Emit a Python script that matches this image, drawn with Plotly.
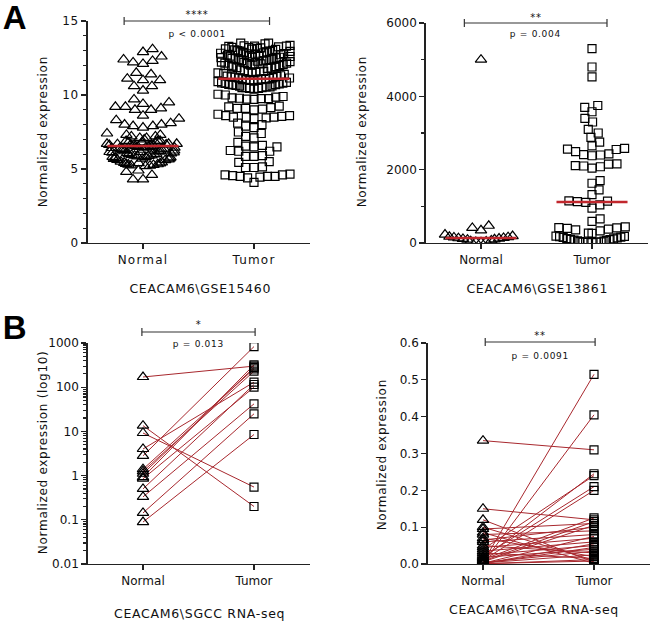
import numpy as np
import plotly.graph_objects as go

# ---------------- DATA ----------------
groups = ["Normal", "Tumor"]

gse15460_normal = [
    13.1, 12.9, 12.6, 12.4, 12.3, 12.2, 12.1,
    11.5, 11.4, 11.1, 11.0, 11.0,
    10.6, 10.6, 10.3,
    9.7, 9.5, 9.4, 9.2, 9.2, 9.1, 9.0, 9.0,
    8.6, 8.4, 8.3,
    8.1, 8.0, 8.0, 7.9, 7.9, 7.8,
    7.4, 7.3, 7.3, 7.2, 7.2, 7.1, 7.1,
    7.0, 6.9, 6.9, 6.9, 6.8, 6.8, 6.8, 6.7, 6.7,
    6.45, 6.5, 6.5, 6.55, 6.55, 6.6, 6.6, 6.62, 6.65, 6.65, 6.68, 6.7,
    6.15, 6.2, 6.22, 6.25, 6.28, 6.3, 6.32, 6.35, 6.38, 6.4, 6.42, 6.45,
    5.9, 5.92, 5.95, 5.98, 6.0, 6.02, 6.05, 6.08, 6.1, 6.12, 6.15, 6.18,
    5.6, 5.62, 5.65, 5.68, 5.7, 5.72, 5.75, 5.78, 5.8, 5.82, 5.85, 5.88,
    5.2, 5.22, 5.25, 5.28, 5.3, 5.32, 5.35, 5.38, 5.4, 5.42, 5.45, 5.5,
    4.9, 4.8, 4.6, 4.3, 4.3,
]
gse15460_tumor = [
    13.5, 13.45, 13.5,
    13.0, 13.02, 13.05, 13.08, 13.1, 13.12, 13.15, 13.18, 13.2, 13.22, 13.25, 13.28, 13.3, 13.3, 13.32, 13.35,
    12.6, 12.62, 12.65, 12.68, 12.7, 12.72, 12.75, 12.78, 12.8, 12.82, 12.85, 12.88, 12.9, 12.92, 12.95, 12.95,
    12.2, 12.22, 12.25, 12.28, 12.3, 12.32, 12.35, 12.38, 12.4, 12.42, 12.45, 12.48, 12.5, 12.52, 12.55, 12.55,
    11.8, 11.82, 11.85, 11.88, 11.9, 11.92, 11.95, 11.98, 12.0, 12.02, 12.05, 12.08, 12.1, 12.12, 12.15, 12.15,
    11.4, 11.45, 11.5, 11.5, 11.55, 11.55, 11.6, 11.6, 11.65, 11.7,
    11.0, 11.02, 11.05, 11.05, 11.08, 11.1, 11.1, 11.12, 11.15, 11.15, 11.18, 11.2, 11.22, 11.25, 11.28, 11.3,
    10.6, 10.62, 10.65, 10.68, 10.7, 10.72, 10.75, 10.78, 10.8, 10.82, 10.85, 10.9,
    10.4, 10.45, 10.45, 10.5, 10.5, 10.5, 10.55, 10.55,
    9.7, 9.72, 9.75, 9.75, 9.78, 9.8, 9.85, 9.9, 10.0, 10.05,
    9.0, 9.05, 9.1, 9.1, 9.15, 9.2, 9.25,
    8.4, 8.45, 8.5, 8.5, 8.5, 8.55, 8.6, 8.6, 8.7,
    7.8, 7.9, 8.0, 8.1,
    7.4, 7.5, 7.1, 7.2, 6.8,
    6.5, 6.5, 6.55, 6.6,
    6.2, 6.2, 6.25,
    5.85, 5.85, 5.9,
    5.45, 5.5,
    5.1, 5.1, 5.15,
    4.4, 4.45, 4.5, 4.5, 4.5, 4.55, 4.6, 4.6, 4.65,
    4.1,
]

gse13861_normal = [5000, 470, 410, 345, 230, 190, 170, 160, 150, 140,
                   130, 120, 110, 100, 90, 70, 50, 40, 30, 20]
gse13861_tumor = [
    5300, 4800, 4530, 3750, 3700, 3580, 3400, 3300, 3100, 3000, 2880, 2750, 2650,
    2580, 2560, 2550, 2490,
    2430, 2410, 2400, 2380,
    2160, 2150, 2110, 2100, 2080, 2040,
    1700, 1630, 1450, 1320,
    1150, 1140, 1130, 1110, 1040, 950,
    660, 590,
    440, 420, 410, 400, 380, 360, 330, 270, 260,
    190, 180, 170, 160, 150, 140, 120, 110, 100, 90, 80, 70, 60, 50, 40, 30, 25, 20, 15, 10,
]

sgcc_normal = [170, 13.5, 9.2, 4.0, 2.8, 1.4, 1.25, 1.1, 0.92, 0.85, 0.5, 0.33, 0.143, 0.089]
sgcc_tumor = [300, 0.2, 0.55, 130, 830, 260, 230, 280, 320, 100, 115, 42, 25, 8.5]

tcga_normal = [0.335, 0.15, 0.12, 0.10, 0.095, 0.085, 0.08, 0.07, 0.065, 0.06, 0.05,
               0.045, 0.04, 0.035, 0.03, 0.025, 0.02, 0.018, 0.015, 0.012, 0.01, 0.008,
               0.006, 0.005, 0.004, 0.003, 0.003, 0.002, 0.002, 0.001, 0.001, 0.0005]
tcga_tumor = [0.31, 0.12, 0.005, 0.01, 0.11, 0.002, 0.09, 0.02, 0.1, 0.08, 0.03,
              0.07, 0.24, 0.06, 0.015, 0.05, 0.21, 0.04, 0.245, 0.125, 0.2, 0.115,
              0.105, 0.515, 0.035, 0.405, 0.025, 0.075, 0.045, 0.008, 0.055, 0.012]

# ---------------- HELPERS ----------------
W, H = 650, 624
FONT = "DejaVu Sans"
MED_RED = "#C1272D"
LINE_RED = "#A8282E"
AX = "#222222"
XPU = 111.0  # px per x unit


def swarm(vals, ypu, d, maxw_px):
    """Beeswarm offsets (data units) computed from values."""
    v = np.asarray(vals, float)
    ys = v * ypu
    xs = np.zeros(len(v))
    placed = []
    flip = False
    for i in np.argsort(v, kind="stable"):
        y = ys[i]
        near = [(xs[j], ys[j]) for j in placed if abs(ys[j] - y) < d]
        cands = [0.0]
        for px, py in near:
            dx = np.sqrt(max(d * d - (py - y) ** 2, 0))
            cands += [px - dx, px + dx]
        cands.sort(key=lambda c: (round(abs(c), 4), (c > 0) == flip))
        for c in cands:
            if all((c - px) ** 2 + (y - py) ** 2 >= d * d - 1e-6 for px, py in near):
                xs[i] = c
                break
        flip = not flip
        placed.append(i)
    out = xs.copy()
    for i in range(len(v)):
        band = np.abs(ys - ys[i]) < d * 0.6
        m = np.max(np.abs(xs[band]))
        if m > maxw_px:
            out[i] = xs[i] * maxw_px / m
    return out / XPU


def py2paper(py):
    return 1 - py / H


fig = go.Figure()

panels = {
    "A1": ("x", "y", (87.5, 309.5), 21, 243),
    "A2": ("x2", "y2", (425.5, 647.5), 23, 243),
    "B1": ("x3", "y3", (87.5, 309.5), 343, 564),
    "B2": ("x4", "y4", (427.5, 649.5), 343, 564),
}

tri = dict(symbol="triangle-up-open", size=10, color="black", line=dict(width=1.2, color="black"))
sq = dict(symbol="square-open", size=8, color="black", line=dict(width=1.2, color="black"))

# ---- Panel A1
ypu_a1 = 222 / 15.0
for k, (vals, mk) in enumerate([(gse15460_normal, tri), (gse15460_tumor, sq)]):
    off = swarm(vals, ypu_a1, 10 if k == 0 else 8.5, 36)
    fig.add_trace(go.Scatter(x=k + off, y=vals, mode="markers", marker=mk,
                             xaxis="x", yaxis="y", showlegend=False, hoverinfo="skip"))
    med = float(np.median(vals))
    fig.add_trace(go.Scatter(x=[k - 0.32, k + 0.32], y=[med, med], mode="lines",
                             line=dict(color=MED_RED, width=2.5), xaxis="x", yaxis="y",
                             showlegend=False, hoverinfo="skip"))

# ---- Panel A2
ypu_a2 = 220 / 6000.0
for k, (vals, mk) in enumerate([(gse13861_normal, tri), (gse13861_tumor, sq)]):
    off = swarm(vals, ypu_a2, 9 if k == 0 else 8.5, 36)
    fig.add_trace(go.Scatter(x=k + off, y=vals, mode="markers", marker=mk,
                             xaxis="x2", yaxis="y2", showlegend=False, hoverinfo="skip"))
    med = float(np.median(vals))
    fig.add_trace(go.Scatter(x=[k - 0.32, k + 0.32], y=[med, med], mode="lines",
                             line=dict(color=MED_RED, width=2.5), xaxis="x2", yaxis="y2",
                             showlegend=False, hoverinfo="skip"))


# ---- Paired panels
def paired(nv, tv, xa, ya):
    lx, ly = [], []
    for a, b in zip(nv, tv):
        lx += [0, 1, None]
        ly += [a, b, None]
    fig.add_trace(go.Scatter(x=lx, y=ly, mode="lines", line=dict(color=LINE_RED, width=1),
                             xaxis=xa, yaxis=ya, showlegend=False, hoverinfo="skip"))
    fig.add_trace(go.Scatter(x=[0] * len(nv), y=nv, mode="markers", marker=tri,
                             xaxis=xa, yaxis=ya, showlegend=False, hoverinfo="skip"))
    fig.add_trace(go.Scatter(x=[1] * len(tv), y=tv, mode="markers", marker=sq,
                             xaxis=xa, yaxis=ya, showlegend=False, hoverinfo="skip"))


paired(sgcc_normal, sgcc_tumor, "x3", "y3")
paired(tcga_normal, tcga_tumor, "x4", "y4")

# ---------------- AXES ----------------
tickfont = dict(family=FONT, size=12, color="#111")
layout = dict(width=W, height=H, margin=dict(l=0, r=0, t=0, b=0, pad=0, autoexpand=False),
              paper_bgcolor="white", plot_bgcolor="white", showlegend=False)

yspecs = {
    "A1": dict(range=[0, 15], tickvals=[0, 5, 10, 15],
               minor=dict(dtick=1, ticks="outside", ticklen=3, tickcolor=AX, showgrid=False)),
    "A2": dict(range=[0, 6000], tickvals=[0, 2000, 4000, 6000],
               minor=dict(dtick=1000, ticks="outside", ticklen=3, tickcolor=AX, showgrid=False)),
    "B1": dict(type="log", range=[-2, 3], tickvals=[0.01, 0.1, 1, 10, 100, 1000],
               ticktext=["0.01", "0.1", "1", "10", "100", "1000"],
               minor=dict(dtick="D1", ticks="outside", ticklen=3, tickcolor=AX, showgrid=False)),
    "B2": dict(range=[0, 0.6], tickvals=[0, 0.1, 0.2, 0.3, 0.4, 0.5, 0.6], tickformat=".1f"),
}

for name, (xa, ya, (x0, x1), yt, yb) in panels.items():
    xkey = "xaxis" + xa[1:]
    ykey = "yaxis" + ya[1:]
    layout[xkey] = dict(domain=[x0 / W, x1 / W], range=[-0.5, 1.5], anchor=ya,
                        tickvals=[0, 1], ticktext=groups, ticks="outside", ticklen=5,
                        tickcolor=AX, tickwidth=1.2, showline=True, linecolor=AX, linewidth=1.3,
                        showgrid=False, zeroline=False, tickfont=tickfont, fixedrange=True,
                        automargin=False)
    yd = dict(domain=[py2paper(yb), py2paper(yt)], anchor=xa, ticks="outside", ticklen=5,
              tickcolor=AX, tickwidth=1.2, showline=True, linecolor=AX, linewidth=1.3,
              showgrid=False, zeroline=False, tickfont=tickfont, fixedrange=True,
              automargin=False)
    yd.update(yspecs[name])
    layout[ykey] = yd

fig.update_layout(**layout)

# ---------------- ANNOTATIONS ----------------
ann = []
shapes = []


def text(x, y, s, size=12, xref="paper", angle=0):
    ann.append(dict(x=x, y=y, xref=xref, yref="paper", text=s, showarrow=False,
                    textangle=angle, xanchor="center", yanchor="middle",
                    font=dict(family=FONT, size=size, color="#111")))


# panel letters
ann.append(dict(x=1 / W, y=py2paper(-3), xref="paper", yref="paper", text="<b>A</b>", showarrow=False,
                xanchor="left", yanchor="top", font=dict(family="Liberation Sans", size=33, color="black")))
ann.append(dict(x=1 / W, y=py2paper(307), xref="paper", yref="paper", text="<b>B</b>", showarrow=False,
                xanchor="left", yanchor="top", font=dict(family="Liberation Sans", size=33, color="black")))

# y-axis titles
text(43 / W, py2paper(132), "Normalized expression", angle=-90)
text(362 / W, py2paper(132), "Normalized expression", angle=-90)
text(43 / W, py2paper(453), "Normalized expression (log10)", angle=-90)
text(382 / W, py2paper(455), "Normalized expression", angle=-90)

# dataset captions
text(200 / W, py2paper(288), "CEACAM6\\GSE15460", size=12.5)
text(537 / W, py2paper(288), "CEACAM6\\GSE13861", size=12.5)
text(199 / W, py2paper(613), "CEACAM6\\SGCC RNA-seq", size=12.5)
text(534 / W, py2paper(609), "CEACAM6\\TCGA RNA-seq", size=12.5)

# significance brackets
brackets = [
    ("x", -0.17, 1.14, 21, "****", 14, "p &lt; 0.0001", 34),
    ("x2", -0.15, 1.135, 23, "**", 17, "p = 0.004", 34),
    ("x3", -0.01, 1.01, 332, "*", 324, "p = 0.013", 344),
    ("x4", 0.02, 1.01, 342, "**", 335, "p = 0.0091", 356),
]
for xa, bx0, bx1, by, stars, sy, ptxt, pyy in brackets:
    yy = py2paper(by)
    dy = 4 / H
    shapes.append(dict(type="line", xref=xa, yref="paper", x0=bx0, x1=bx1, y0=yy, y1=yy,
                       line=dict(color="#333", width=1.2)))
    for bx in (bx0, bx1):
        shapes.append(dict(type="line", xref=xa, yref="paper", x0=bx, x1=bx, y0=yy - dy, y1=yy + dy,
                           line=dict(color="#333", width=1.2)))
    text((bx0 + bx1) / 2, py2paper(sy), stars, size=10, xref=xa)
    text((bx0 + bx1) / 2, py2paper(pyy), ptxt, size=9, xref=xa)

fig.update_layout(annotations=ann, shapes=shapes)

# remove page margin and add GraphPad-style letter tracking on labels
post = """
document.body.style.margin='0';
document.body.style.padding='0';
document.body.style.overflow='hidden';
var gd = document.getElementById('{plot_id}');
gd.querySelectorAll('.xtick text').forEach(function(e){e.style.letterSpacing='1.2px';});
gd.querySelectorAll('.ytick text').forEach(function(e){e.style.letterSpacing='0.6px';});
gd.querySelectorAll('.annotation-text').forEach(function(e){e.style.letterSpacing='0.7px';});
"""
fig.write_html("out.html", post_script=post, config={"displayModeBar": False, "staticPlot": True})
